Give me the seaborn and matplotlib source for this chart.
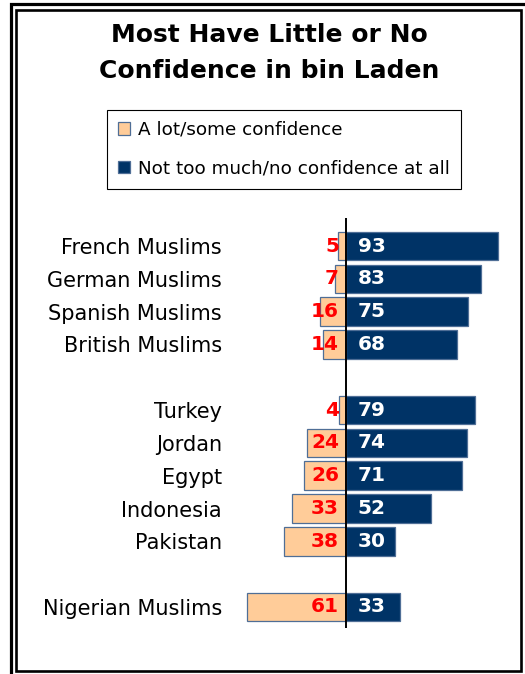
import matplotlib
matplotlib.use("Agg")
import matplotlib.pyplot as plt
import seaborn as sns
import pandas as pd
from matplotlib.patches import Rectangle, Patch

# ---- data ----
countries = ["French Muslims", "German Muslims", "Spanish Muslims", "British Muslims",
             "Turkey", "Jordan", "Egypt", "Indonesia", "Pakistan", "Nigerian Muslims"]
some_conf = [5, 7, 16, 14, 4, 24, 26, 33, 38, 61]
no_conf = [93, 83, 75, 68, 79, 74, 71, 52, 30, 33]
row_order = ["French Muslims", "German Muslims", "Spanish Muslims", "British Muslims", " ",
             "Turkey", "Jordan", "Egypt", "Indonesia", "Pakistan", "  ", "Nigerian Muslims"]
legend_labels = ["A lot/some confidence", "Not too much/no confidence at all"]
title = "Most Have Little or No\nConfidence in bin Laden"

ORANGE = "#FFCC99"
NAVY = "#003366"
EDGE = "#4F6E96"

df = pd.DataFrame({"country": countries,
                   "some": [-v for v in some_conf],
                   "none": no_conf})

sns.set_style("white")
plt.rcParams["font.family"] = ["DejaVu Sans"]
plt.rcParams["text.color"] = "black"
plt.rcParams["ytick.color"] = "black"

W, H = 525, 674
fig = plt.figure(figsize=(W / 100, H / 100), dpi=100)
ax = fig.add_axes([235 / W, (H - 628) / H, (510 - 235) / W, (628 - 218) / H])

sns.barplot(data=df, y="country", x="some", order=row_order, orient="h",
            color=ORANGE, saturation=1, width=0.87, edgecolor=EDGE, linewidth=0.9, ax=ax)
sns.barplot(data=df, y="country", x="none", order=row_order, orient="h",
            color=NAVY, saturation=1, width=0.87, edgecolor=EDGE, linewidth=0.9, ax=ax)

ax.set_xlim(-68.1, 100.6)
ax.set_ylim(11.64, -0.854)
ax.axvline(0, color="black", lw=1.4, zorder=5)
for s in ax.spines.values():
    s.set_visible(False)
ax.set_xticks([])
ax.set_xlabel("")
ax.set_ylabel("")
ax.tick_params(axis="y", length=0, pad=9.5, labelsize=15, labelcolor="black")

for name, a, b in zip(countries, some_conf, no_conf):
    i = row_order.index(name)
    ax.annotate(str(a), xy=(0, i), xytext=(-5, 0), textcoords="offset points",
                ha="right", va="center", color="#FF0000", fontsize=14.5, fontweight="bold", zorder=6)
    ax.annotate(str(b), xy=(0, i), xytext=(8.5, 0), textcoords="offset points",
                ha="left", va="center", color="white", fontsize=14.5, fontweight="bold", zorder=6)

fig.text(269 / W, 1 - 53 / H, title, ha="center", va="center", fontsize=18,
         fontweight="bold", linespacing=1.6, color="black")

handles = [Patch(facecolor=ORANGE, edgecolor=EDGE, lw=0.9),
           Patch(facecolor=NAVY, edgecolor=EDGE, lw=0.9)]
leg = fig.legend(handles, legend_labels, loc="upper left",
                 bbox_to_anchor=(107 / W, 1 - 110 / H), fontsize=13.2,
                 frameon=True, fancybox=False, edgecolor="black", framealpha=1,
                 handlelength=0.68, handleheight=0.68, handletextpad=0.4,
                 labelspacing=1.12, borderpad=0.6, borderaxespad=0)
leg.get_frame().set_linewidth(0.8)
for t in leg.get_texts():
    t.set_color("black")

# double border
fig.patches.append(Rectangle((11 / W, 1 - 680 / H), (530 - 11) / W, (680 - 4) / H,
                             transform=fig.transFigure, fill=False, edgecolor="black", lw=2.3))
fig.patches.append(Rectangle((16 / W, 1 - 670.5 / H), (521 - 16) / W, (670.5 - 10) / H,
                             transform=fig.transFigure, fill=False, edgecolor="black", lw=1.9))

fig.savefig("out.png", dpi=100)
